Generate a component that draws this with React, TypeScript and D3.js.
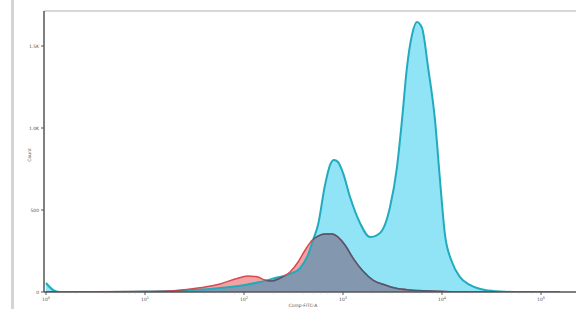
import { useEffect, useRef } from 'react';
import * as d3 from 'd3';

// Comp-FITC-A intensity and event counts
const sampleX = [1, 1.2, 1.4, 3.5, 10.2, 17.9, 28.5, 45.4, 72.2, 102, 145, 206, 292, 368, 443, 498, 559, 658, 739, 811, 890, 1000, 1178, 1485, 1875, 2365, 2985, 3510, 3945, 4430, 4975, 5585, 6280, 7225, 8495, 9545, 10720, 12620, 15200, 19170, 27180, 38530, 61380, 155600];
const sampleCount = [55, 10, 0, 0, 3, 6, 12, 18, 30, 43, 61, 85, 110, 146, 226, 317, 409, 652, 774, 805, 793, 726, 579, 421, 335, 360, 518, 762, 1049, 1372, 1567, 1646, 1610, 1372, 1049, 683, 348, 183, 91, 43, 12, 3, 0, 0];

const controlX = [1, 10.2, 17.9, 28.5, 40.4, 57.3, 81.2, 109.5, 138, 163, 192, 232, 292, 352, 415, 490, 559, 658, 778, 890, 1047, 1262, 1590, 2007, 2665, 3350, 4690, 7550, 15200, 155600];
const controlCount = [0, 3, 6, 18, 30, 49, 79, 98, 91, 73, 67, 85, 122, 183, 256, 317, 341, 354, 354, 335, 287, 207, 128, 73, 43, 24, 12, 6, 0, 0];

const yTicks = [0, 500, 1000, 1500];
const yTickLabels = ['0', '500', '1.0K', '1.5K'];
const xDecades = [0, 1, 2, 3, 4, 5];

const W = 576;
const H = 309;

export default function App() {
  const svgRef = useRef<SVGSVGElement>(null);

  useEffect(() => {
    if (!svgRef.current) return;
    const svg = d3.select(svgRef.current);
    svg.selectAll('*').remove();

    const left = 44, top = 11, right = 576, bottom = 292;

    const x = d3.scaleLog().domain([1, 1e5]).range([46, 541]);
    const y = d3.scaleLinear().domain([0, 1500]).range([bottom, 46]);

    const defs = svg.append('defs');
    defs.append('clipPath').attr('id', 'plot')
      .append('rect').attr('x', left).attr('y', top).attr('width', right - left).attr('height', bottom - top);

    const sample = sampleX.map((v, i) => [v, sampleCount[i]] as [number, number]);
    const control = controlX.map((v, i) => [v, controlCount[i]] as [number, number]);

    const area = d3.area<[number, number]>()
      .x(d => x(d[0]))
      .y0(bottom)
      .y1(d => y(d[1]))
      .curve(d3.curveMonotoneX);
    const line = d3.line<[number, number]>()
      .x(d => x(d[0]))
      .y(d => y(d[1]))
      .curve(d3.curveMonotoneX);

    defs.append('clipPath').attr('id', 'sampleArea')
      .append('path').attr('d', area(sample) || '');

    // left border strip
    svg.append('rect').attr('x', 11).attr('y', 0).attr('width', 3).attr('height', H).attr('fill', '#d4d4d4');

    const g = svg.append('g').attr('clip-path', 'url(#plot)');

    // sample histogram
    g.append('path').attr('d', area(sample) || '').attr('fill', '#90e4f6');

    // control histogram: pink outside the sample, slate where it overlaps
    g.append('path').attr('d', area(control) || '').attr('fill', '#f3a2a4');
    g.append('g').attr('clip-path', 'url(#sampleArea)')
      .append('path').attr('d', area(control) || '').attr('fill', '#8398ae');

    g.append('path').attr('d', line(sample) || '')
      .attr('fill', 'none').attr('stroke', '#22aabd').attr('stroke-width', 2);

    g.append('path').attr('d', line(control) || '')
      .attr('fill', 'none').attr('stroke', '#d84a52').attr('stroke-width', 1.5);
    g.append('g').attr('clip-path', 'url(#sampleArea)')
      .append('path').attr('d', line(control) || '')
      .attr('fill', 'none').attr('stroke', '#475c74').attr('stroke-width', 1.5);

    // frame
    svg.append('line').attr('x1', left).attr('x2', right).attr('y1', top).attr('y2', top)
      .attr('stroke', '#b0b0b0').attr('stroke-width', 1);
    svg.append('line').attr('x1', left).attr('x2', left).attr('y1', top).attr('y2', bottom)
      .attr('stroke', '#555', ).attr('stroke-width', 1.5);
    svg.append('line').attr('x1', left).attr('x2', right).attr('y1', bottom).attr('y2', bottom)
      .attr('stroke', '#555').attr('stroke-width', 1.5);

    // y ticks
    yTicks.forEach((t, i) => {
      svg.append('line').attr('x1', left - 3).attr('x2', left).attr('y1', y(t)).attr('y2', y(t))
        .attr('stroke', '#555').attr('stroke-width', 1);
      svg.append('text').attr('x', left - 5).attr('y', y(t)).attr('dy', '0.35em')
        .attr('text-anchor', 'end').attr('font-size', 4.5).attr('fill', '#555')
        .attr('font-family', 'DejaVu Sans').text(yTickLabels[i]);
    });

    svg.append('text')
      .attr('transform', `translate(31, 155) rotate(-90)`)
      .attr('text-anchor', 'middle').attr('font-size', 4.5).attr('fill', '#555')
      .attr('font-family', 'DejaVu Sans').text('Count');

    // x ticks (log decades with minor ticks)
    xDecades.forEach(d => {
      const v = Math.pow(10, d);
      svg.append('line').attr('x1', x(v)).attr('x2', x(v)).attr('y1', bottom).attr('y2', bottom + 3)
        .attr('stroke', '#555').attr('stroke-width', 1);
      if (d < 5) {
        for (let k = 2; k < 10; k++) {
          svg.append('line').attr('x1', x(v * k)).attr('x2', x(v * k))
            .attr('y1', bottom).attr('y2', bottom + 1.5)
            .attr('stroke', '#999').attr('stroke-width', 0.5);
        }
      }
      const t = svg.append('text').attr('x', x(v)).attr('y', 301)
        .attr('text-anchor', 'middle').attr('font-size', 4.5).attr('fill', '#555')
        .attr('font-family', 'DejaVu Sans');
      t.append('tspan').text('10');
      t.append('tspan').attr('dy', -2).attr('font-size', 3.5).text(String(d));
    });

    svg.append('text').attr('x', 303).attr('y', 307)
      .attr('text-anchor', 'middle').attr('font-size', 4.5).attr('fill', '#555')
      .attr('font-family', 'DejaVu Sans').text('Comp-FITC-A');
  }, []);

  return (
    <svg ref={svgRef} width={W} height={H}
      style={{ position: 'absolute', left: 0, top: 0, background: '#fff' }} />
  );
}
